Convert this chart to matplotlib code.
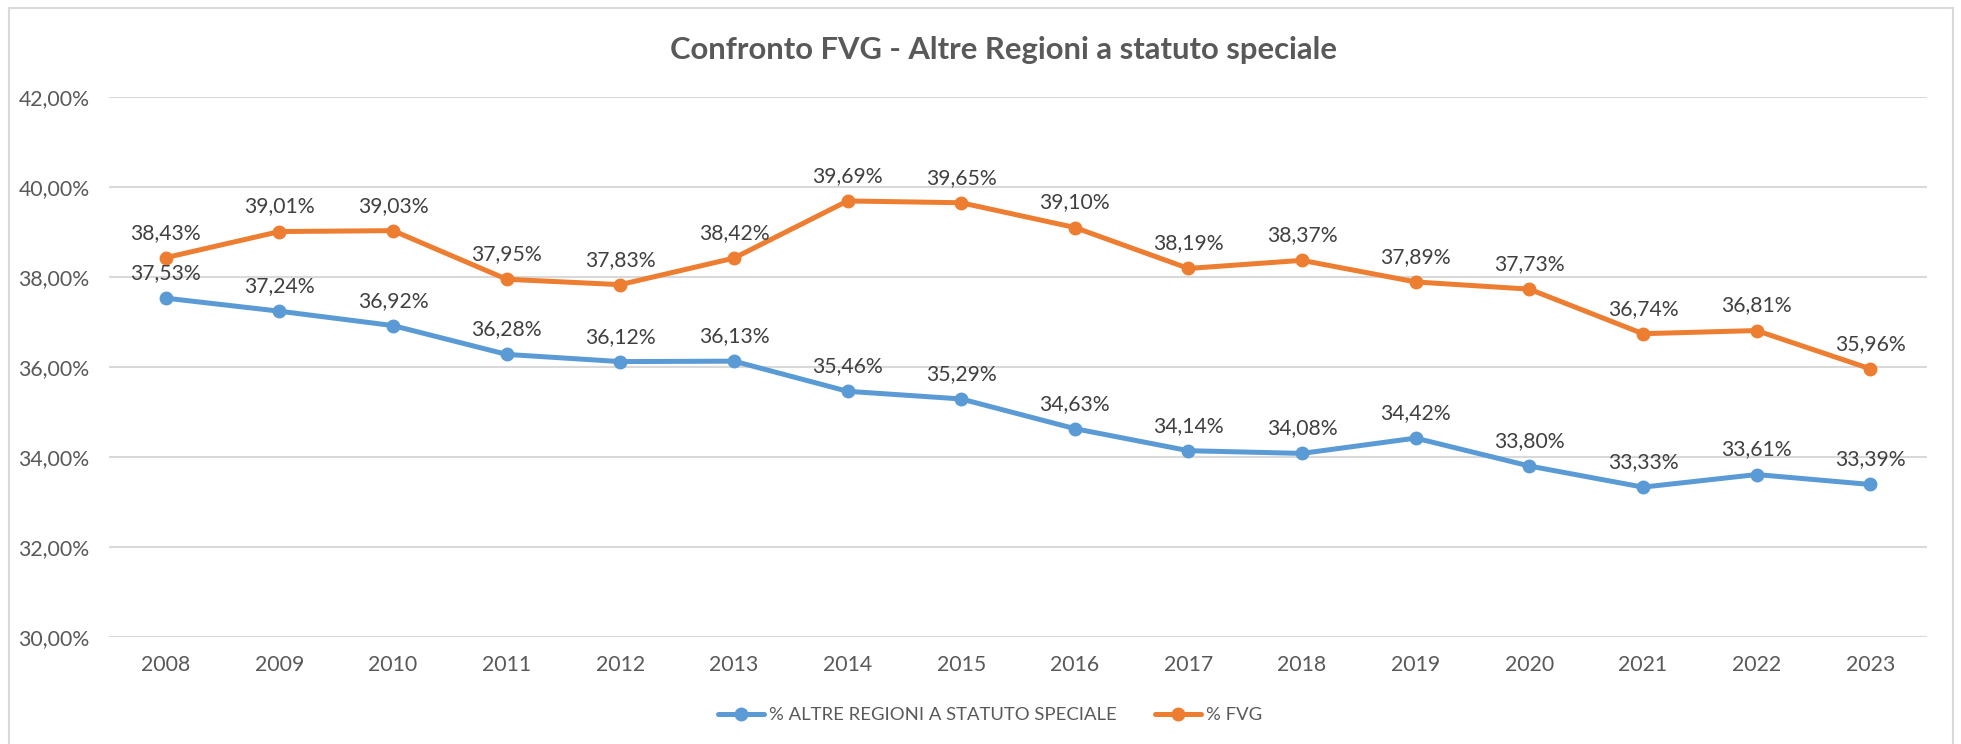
import matplotlib
matplotlib.use("Agg")
import matplotlib.pyplot as plt
from matplotlib.patches import Rectangle
from matplotlib.ticker import FuncFormatter

years = ["2008", "2009", "2010", "2011", "2012", "2013", "2014", "2015",
         "2016", "2017", "2018", "2019", "2020", "2021", "2022", "2023"]
altre = [37.53, 37.24, 36.92, 36.28, 36.12, 36.13, 35.46, 35.29,
         34.63, 34.14, 34.08, 34.42, 33.80, 33.33, 33.61, 33.39]
fvg = [38.43, 39.01, 39.03, 37.95, 37.83, 38.42, 39.69, 39.65,
       39.10, 38.19, 38.37, 37.89, 37.73, 36.74, 36.81, 35.96]
yticks = [30, 32, 34, 36, 38, 40, 42]

title = "Confronto FVG - Altre Regioni a statuto speciale"
name_altre = "% ALTRE REGIONI A STATUTO SPECIALE"
name_fvg = "% FVG"

plt.rcParams['font.family'] = ['Lato', 'DejaVu Sans']

W, H = 1961, 744
fig = plt.figure(figsize=(W / 100, H / 100), dpi=100)
fig.patches.append(Rectangle((9 / W, -0.01), (1953 - 9) / W, (744 - 8) / H + 0.01,
                             transform=fig.transFigure, fill=False,
                             edgecolor="#D9D9D9", linewidth=1.5))

ax = fig.add_axes([109 / W, 107 / H, (1927 - 109) / W, (637 - 97) / H])
x = list(range(len(years)))
blue = "#5B9BD5"
orange = "#ED7D31"
ax.plot(x, altre, color=blue, lw=3.6, marker='o', ms=9, label=name_altre,
        solid_capstyle='round', zorder=3)
ax.plot(x, fvg, color=orange, lw=3.6, marker='o', ms=9, label=name_fvg,
        solid_capstyle='round', zorder=3)

def fmt(v):
    return f"{v:.2f}".replace(".", ",") + "%"

for xs, ys in ((x, altre), (x, fvg)):
    for xi, yi in zip(xs, ys):
        ax.annotate(fmt(yi), (xi, yi), xytext=(0, 18), textcoords='offset points',
                    ha='center', va='center', fontsize=15.2, color="#404040", zorder=4)

ax.set_xlim(-0.5, len(years) - 0.5)
ax.set_ylim(30, 42)
ax.set_yticks(yticks)
ax.yaxis.set_major_formatter(FuncFormatter(lambda v, p: f"{v:.2f}".replace(".", ",") + "%"))
ax.set_xticks(x)
ax.set_xticklabels(years)
ax.grid(axis='y', color="#D9D9D9", lw=1.5, zorder=0)
ax.set_axisbelow(True)
for s in ax.spines.values():
    s.set_visible(False)
ax.tick_params(axis='both', length=0, labelsize=15.3, labelcolor="#595959")
ax.tick_params(axis='y', pad=14)
ax.tick_params(axis='x', pad=13)

fig.text(1004 / W, 1 - 50 / H, title, ha='center', va='center', fontsize=22.3,
         fontweight='bold', color="#595959")

leg = fig.legend(loc='center', bbox_to_anchor=(990 / W, 1 - 715 / H), ncol=2,
                 frameon=False, fontsize=13.3, labelcolor="#595959",
                 handlelength=2.5, handletextpad=0.25, columnspacing=2.1)

fig.savefig("out.png", dpi=100)
